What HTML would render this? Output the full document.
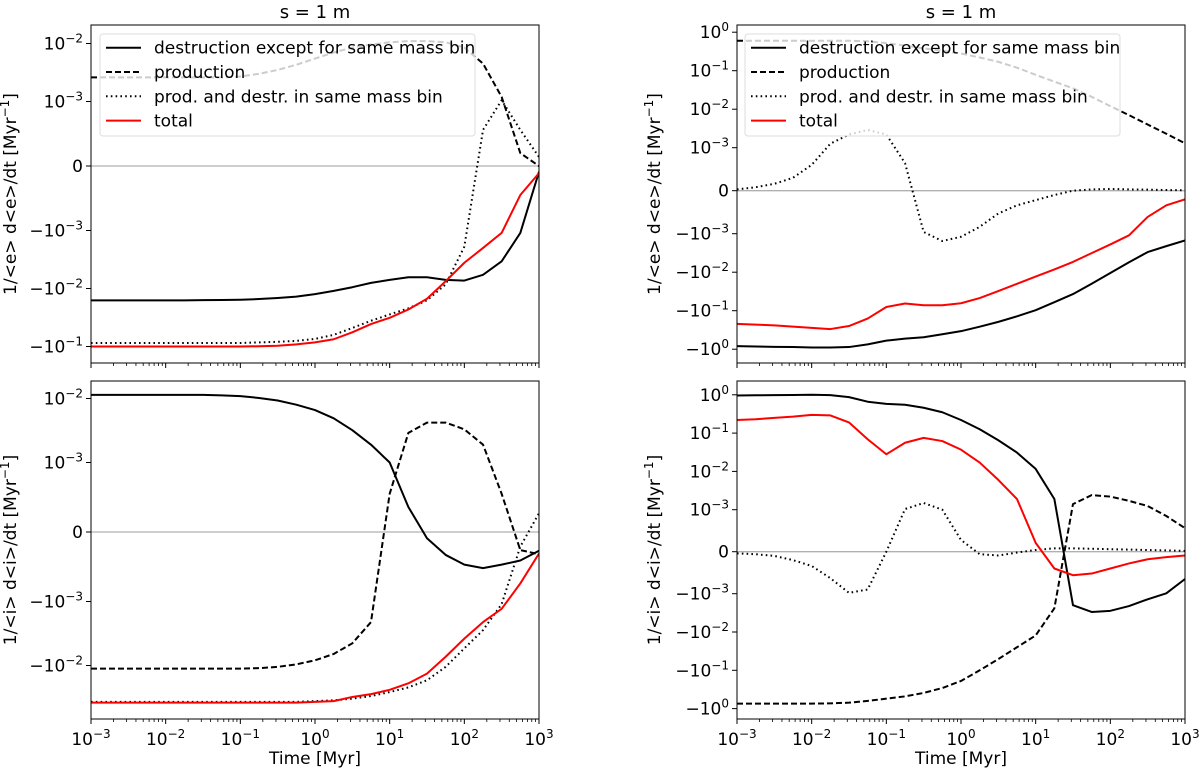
<!DOCTYPE html>
<html><head><meta charset="utf-8">
<style>
html,body{margin:0;padding:0;background:#fff;}
svg{display:block;font-family:"DejaVu Sans","Liberation Sans",sans-serif;}
</style></head>
<body>
<svg id="fig" width="1200" height="769" viewBox="0 0 1200 769" xmlns="http://www.w3.org/2000/svg"></svg>
<script>
const times = [0.001,0.00178,0.00316,0.00562,0.01,0.0178,0.0316,0.0562,0.1,0.178,0.316,0.562,1,1.78,3.16,5.62,10,17.8,31.6,56.2,100,178,316,562,1000];
const xTickLabels = ["-3","-2","-1","0","1","2","3"];

const tlDestr = [-0.016,-0.016,-0.016,-0.016,-0.016,-0.016,-0.0159,-0.0158,-0.0156,-0.0152,-0.0146,-0.0138,-0.0125,-0.011,-0.0095,-0.008,-0.0071,-0.0064,-0.0064,-0.0071,-0.0073,-0.0058,-0.0034,-0.0011,-0.00009];
const tlProd = [0.0026,0.0026,0.0026,0.0026,0.0026,0.0026,0.0026,0.0026,0.0027,0.003,0.0035,0.0043,0.0055,0.007,0.0085,0.0096,0.0105,0.011,0.011,0.0105,0.0085,0.0045,0.0012,0.0002,0];
const tlSame = [-0.087,-0.087,-0.087,-0.087,-0.087,-0.087,-0.087,-0.087,-0.087,-0.085,-0.083,-0.08,-0.074,-0.063,-0.048,-0.036,-0.028,-0.022,-0.016,-0.0085,-0.0019,0.00056,0.00105,0.00056,0.00014];
const tlTotal = [-0.1,-0.1,-0.1,-0.1,-0.1,-0.1,-0.1,-0.1,-0.1,-0.099,-0.097,-0.092,-0.085,-0.075,-0.057,-0.041,-0.032,-0.023,-0.015,-0.0075,-0.0036,-0.002,-0.0011,-0.00045,-0.00011];

const blDestr = [0.0114,0.0114,0.0114,0.0114,0.0114,0.0114,0.0114,0.0112,0.0109,0.0102,0.0093,0.008,0.0066,0.0049,0.0032,0.0019,0.001,0.00036,-0.00009,-0.00033,-0.00047,-0.00052,-0.00047,-0.00041,-0.00027];
const blProd = [-0.0112,-0.0112,-0.0112,-0.0112,-0.0112,-0.0112,-0.0112,-0.0112,-0.0112,-0.011,-0.0105,-0.0096,-0.0083,-0.0066,-0.0045,-0.0021,0.00055,0.0029,0.0042,0.0042,0.0033,0.0019,0.00055,-0.00026,-0.00032];
const blSame = [-0.037,-0.037,-0.037,-0.037,-0.037,-0.037,-0.037,-0.037,-0.037,-0.037,-0.037,-0.037,-0.036,-0.035,-0.033,-0.03,-0.026,-0.022,-0.017,-0.0105,-0.0054,-0.0028,-0.0011,-0.00021,0.00027];
const blTotal = [-0.038,-0.038,-0.038,-0.038,-0.038,-0.038,-0.038,-0.038,-0.038,-0.038,-0.038,-0.038,-0.037,-0.036,-0.031,-0.028,-0.024,-0.019,-0.0134,-0.0073,-0.0038,-0.0021,-0.0013,-0.00074,-0.00031];

const trDestr = [-0.83,-0.85,-0.87,-0.88,-0.9,-0.9,-0.88,-0.75,-0.6,-0.53,-0.49,-0.41,-0.34,-0.26,-0.195,-0.14,-0.097,-0.06,-0.037,-0.02,-0.0105,-0.0055,-0.003,-0.0021,-0.0015];
const trProd = [0.6,0.6,0.6,0.6,0.6,0.6,0.6,0.58,0.52,0.45,0.38,0.33,0.28,0.22,0.17,0.12,0.078,0.052,0.035,0.021,0.012,0.007,0.004,0.0023,0.0013];
const trSame = [0.00003,0.00008,0.00016,0.0003,0.0006,0.00127,0.0022,0.0029,0.0022,0.00064,-0.00096,-0.00155,-0.0012,-0.00084,-0.00053,-0.00034,-0.00022,-0.0001,0,0.00003,0.00004,0.00003,0.000025,0.000015,0.00001];
const trTotal = [-0.22,-0.23,-0.24,-0.26,-0.28,-0.3,-0.25,-0.16,-0.08,-0.065,-0.072,-0.072,-0.064,-0.047,-0.031,-0.02,-0.013,-0.0085,-0.0054,-0.0032,-0.0019,-0.0011,-0.00061,-0.00034,-0.0002];

const brDestr = [0.96,0.97,0.98,0.99,1.0,0.98,0.87,0.66,0.58,0.55,0.46,0.35,0.22,0.126,0.065,0.031,0.0116,0.0019,-0.002,-0.003,-0.0028,-0.0021,-0.0014,-0.00099,-0.00065];
const brProd = [-0.74,-0.74,-0.74,-0.74,-0.74,-0.73,-0.7,-0.63,-0.55,-0.48,-0.39,-0.29,-0.19,-0.1,-0.051,-0.025,-0.0123,-0.0024,0.0014,0.0024,0.0022,0.0017,0.00125,0.00085,0.00056];
const brSame = [-0.00004,-0.00006,-0.0001,-0.0002,-0.00034,-0.00063,-0.00098,-0.0009,0,0.00104,0.0015,0.001,0.00028,-0.00006,-0.00009,-0.00002,0.00004,0.00008,0.00008,0.00007,0.00006,0.00005,0.00004,0.00003,0.00002];
const brTotal = [0.22,0.23,0.25,0.27,0.3,0.29,0.19,0.069,0.028,0.056,0.075,0.062,0.037,0.017,0.006,0.0019,0.00021,-0.0004,-0.00056,-0.00052,-0.0004,-0.00028,-0.00018,-0.00013,-0.00009];

const tlTicks = [2,3,0,3,2,1];
const tlTickSigns = [1,1,0,-1,-1,-1];
const blTicks = [2,3,0,3,2];
const blTickSigns = [1,1,0,-1,-1];
const rTicks = [0,1,2,3,0,3,2,1,0];
const rTickSigns = [1,1,1,1,0,-1,-1,-1,-1];

const NS = "http://www.w3.org/2000/svg";
const svg = document.getElementById('fig');
function mk(tag, attrs, parent){
  const e = document.createElementNS(NS, tag);
  for (const k in attrs) e.setAttribute(k, attrs[k]);
  (parent||svg).appendChild(e);
  return e;
}

function makePanel(cfg){
  const g = mk('g', {});
  
  
  const {x0,x1,y0,y1,zero,H,D} = cfg;
  const X = t => x0 + (Math.log10(t) + 3) / 6 * (x1 - x0);
  const Y = v => {
    const a = Math.abs(v), s = Math.sign(v);
    const p = a <= 1e-3 ? a / 1e-3 * H : H + Math.log10(a / 1e-3) * D;
    return zero - s * p;
  };
  const clipId = 'clip-' + cfg.name;
  const cp = mk('clipPath', {id: clipId}, g);
  mk('rect', {x:x0, y:y0, width:x1-x0, height:y1-y0}, cp);

  const zl = mk('line', {x1:x0, x2:x1, y1:zero, y2:zero, stroke:'#b0b0b0', 'stroke-width':1.3}, g);
  
  

  const series = [
    {d:cfg.prod, dash:'6,3', col:'#000', nm:'production-line'},
    {d:cfg.same, dash:'1.6,3.2', col:'#000', nm:'same-bin-line'},
    {d:cfg.destr, dash:'', col:'#000', nm:'destruction-line'},
    {d:cfg.total, dash:'', col:'#ff0000', nm:'total-line'}
  ];
  const lg = mk('g', {'clip-path':'url(#'+clipId+')'}, g);
  series.forEach(s => {
    const pts = s.d.map((v,i) => X(times[i]).toFixed(2) + ',' + Y(v).toFixed(2)).join(' ');
    const pl = mk('polyline', {points:pts, fill:'none', stroke:s.col, 'stroke-width':2, 'stroke-linejoin':'round'}, lg);
    if (s.dash) pl.setAttribute('stroke-dasharray', s.dash);
    
    
  });

  xTickLabels.forEach((lab, i) => {
    const xp = x0 + i / 6 * (x1 - x0);
    mk('line', {x1:xp, x2:xp, y1:y1, y2:y1+5, stroke:'#000', 'stroke-width':1}, g);
    if (i < 6) for (let m = 2; m < 10; m++) {
      const xm = xp + Math.log10(m) / 6 * (x1 - x0);
      mk('line', {x1:xm, x2:xm, y1:y1, y2:y1+3, stroke:'#000', 'stroke-width':0.8}, g);
    }
    if (cfg.xlabels) {
      const t = mk('text', {x:xp, y:y1+26, 'font-size':17, 'text-anchor':'middle', fill:'#000'}, g);
      
      
      t.appendChild(document.createTextNode('10'));
      const sp = mk('tspan', {dy:-7, 'font-size':12}, t);
      sp.textContent = lab.replace('-', '\u2212');
    }
  });
  cfg.ticks.forEach((e, i) => {
    const sg = cfg.signs[i];
    const v = sg === 0 ? 0 : sg * Math.pow(10, -e);
    const yp = Y(v);
    mk('line', {x1:x0-5, x2:x0, y1:yp, y2:yp, stroke:'#000', 'stroke-width':1}, g);
    const t = mk('text', {x:x0-8, y:yp+6, 'font-size':17, 'text-anchor':'end', fill:'#000'}, g);
    
    
    if (sg === 0) { t.textContent = '0'; return; }
    const base = mk('tspan', {}, t);
    base.textContent = (sg < 0 ? '\u2212' : '') + '10';
    const sp = mk('tspan', {dy:-7, 'font-size':12}, t);
    sp.textContent = e === 0 ? '0' : '\u2212' + e;
  });
  const fr = mk('rect', {x:x0, y:y0, width:x1-x0, height:y1-y0, fill:'none', stroke:'#000', 'stroke-width':1}, g);
  
  

  const cy = (y0 + y1) / 2;
  const yl = mk('text', {x:cfg.ylx, y:cy, 'font-size':17, 'text-anchor':'middle', transform:'rotate(-90 '+cfg.ylx+' '+cy+')', fill:'#000'}, g);
  
  
  yl.appendChild(document.createTextNode(cfg.ylabel + ' [Myr'));
  const ys = mk('tspan', {dy:-7, 'font-size':12}, yl); ys.textContent = '\u22121';
  const yr = mk('tspan', {dy:7}, yl); yr.textContent = ']';

  if (cfg.title) {
    const tt = mk('text', {x:(x0+x1)/2, y:18, 'font-size':18, 'text-anchor':'middle', fill:'#000'}, g);
    
    
    tt.textContent = 's = 1 m';
  }
  if (cfg.xtitle) {
    const xt = mk('text', {x:(x0+x1)/2, y:764, 'font-size':17, 'text-anchor':'middle', fill:'#000'}, g);
    
    
    xt.textContent = 'Time [Myr]';
  }
  if (cfg.legend) {
    const lx = cfg.legend[0], lw = cfg.legend[1];
    const lgd = mk('g', {}, g);
    
    
    mk('rect', {x:lx, y:34, width:lw, height:102, rx:3, fill:'rgba(255,255,255,0.8)', stroke:'#dddddd', 'stroke-width':1}, lgd);
    const ent = [
      ['destruction except for same mass bin','', '#000'],
      ['production','6,3','#000'],
      ['prod. and destr. in same mass bin','1.6,3.2','#000'],
      ['total','','#ff0000']
    ];
    ent.forEach((en, i) => {
      const yy = 47.7 + i * 24.3;
      const e = mk('g', {}, lgd);
      
      
      const ln = mk('line', {x1:lx+6, x2:lx+41, y1:yy, y2:yy, stroke:en[2], 'stroke-width':2}, e);
      if (en[1]) ln.setAttribute('stroke-dasharray', en[1]);
      const t = mk('text', {x:lx+54, y:yy+6, 'font-size':17, fill:'#000'}, e);
      t.textContent = en[0];
    });
  }
}

makePanel({name:'panel-top-left', x0:91, x1:539, y0:25, y1:363, zero:166, H:64.5, D:58,
  destr:tlDestr, prod:tlProd, same:tlSame, total:tlTotal, ticks:tlTicks, signs:tlTickSigns,
  ylabel:'1/<e> d<e>/dt', ylx:16, title:true, legend:[100,375]});
makePanel({name:'panel-bottom-left', x0:91, x1:539, y0:381, y1:719, zero:532, H:69.5, D:64,
  destr:blDestr, prod:blProd, same:blSame, total:blTotal, ticks:blTicks, signs:blTickSigns,
  ylabel:'1/<i> d<i>/dt', ylx:16, xlabels:true, xtitle:true});
makePanel({name:'panel-top-right', x0:737, x1:1185, y0:25, y1:363, zero:190.7, H:43, D:38.5,
  destr:trDestr, prod:trProd, same:trSame, total:trTotal, ticks:rTicks, signs:rTickSigns,
  ylabel:'1/<e> d<e>/dt', ylx:660, title:true, legend:[745,375]});
makePanel({name:'panel-bottom-right', x0:737, x1:1185, y0:381, y1:719, zero:551.7, H:42, D:38.3,
  destr:brDestr, prod:brProd, same:brSame, total:brTotal, ticks:rTicks, signs:rTickSigns,
  ylabel:'1/<i> d<i>/dt', ylx:660, xlabels:true, xtitle:true});
</script>
</body></html>
